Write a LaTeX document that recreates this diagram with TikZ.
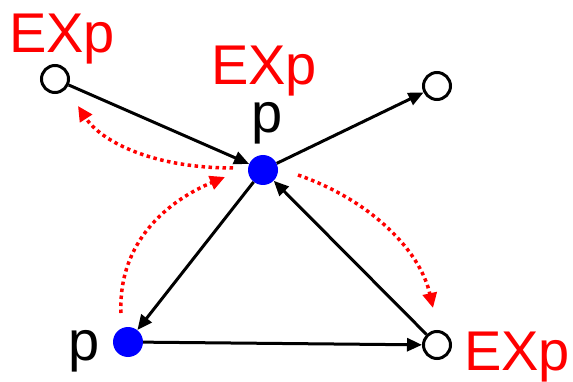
\documentclass[tikz,border=0pt]{standalone}
\usepackage{fontspec}
\setmainfont{Liberation Sans}
\usetikzlibrary{arrows.meta}
\begin{document}
\begin{tikzpicture}[x=1pt,y=-1pt,
  opennode/.style={circle,draw=black,line width=3pt,fill=white,minimum size=27pt,inner sep=0pt},
  bluenode/.style={circle,fill=blue,minimum size=30pt,inner sep=0pt},
  lbl/.style={anchor=base west,inner sep=0pt,font=\fontsize{56}{60}\selectfont},
  edge/.style={line width=3pt,-{Triangle[length=15pt,width=13pt]}},
  redarc/.style={red,line width=3.5pt,dash pattern=on 3.5pt off 3.5pt,-{Triangle[length=15pt,width=14pt]}}]
\useasboundingbox (0,0) rectangle (573,382);
\node[opennode] (tl) at (55,79) {};
\node[opennode] (tr) at (437,86) {};
\node[opennode] (br) at (437,345) {};
\node[bluenode] (c) at (263,170) {};
\node[bluenode] (bl) at (128,342) {};
\node[lbl,red] (l1) at (9,53) {EXp};
\node[lbl,red] (l2) at (211,85) {EXp};
\node[lbl,red] (l3) at (464,370) {EXp};
\node[lbl] (p1) at (251,133) {p};
\node[lbl] (p2) at (68,360) {p};
\draw[edge] (tl) -- (c);
\draw[edge] (c) -- (tr);
\draw[edge] (c) -- (bl);
\draw[edge] (bl) -- (br);
\draw[edge] (br) -- (c);
\coordinate (a1s) at (233,168);
\coordinate (a1e) at (78,106);
\coordinate (a2s) at (121,313);
\coordinate (a2e) at (225,177);
\coordinate (a3s) at (298,175);
\coordinate (a3e) at (433,308);
\draw[redarc] (a1s) .. controls (150,168) and (100,140) .. (a1e);
\draw[redarc] (a2s) .. controls (118,240) and (170,200) .. (a2e);
\draw[redarc] (a3s) .. controls (370,200) and (420,250) .. (a3e);
\end{tikzpicture}
\end{document}
